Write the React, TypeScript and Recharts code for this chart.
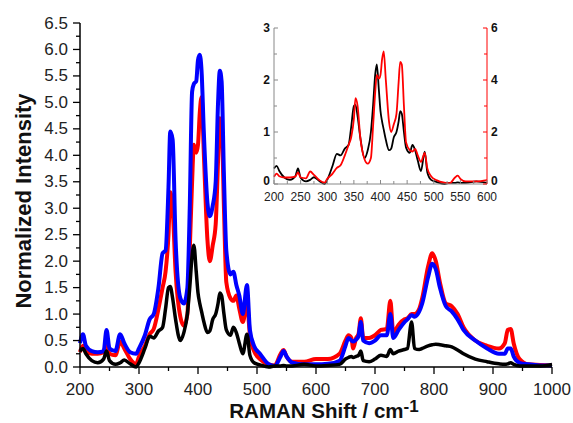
import { LineChart, Line, XAxis, YAxis } from "recharts";

// Raman shift (cm-1)
const shift = [
  200, 205, 210, 220, 230, 240, 245, 250, 260, 268,
  275, 285, 295, 300, 310, 318, 325, 333, 340, 345,
  350, 353, 357, 362, 370, 376, 382, 386, 390, 393,
  397, 400, 403, 406, 410, 416, 420, 425, 430, 434,
  437, 440, 444, 448, 455, 460, 465, 470, 476, 483,
  488, 495, 505, 520, 530, 540, 545, 550, 560, 580,
  600, 620, 640, 650, 655, 660, 663, 668, 672, 676,
  680, 690, 700, 710, 720, 726, 731, 740, 750, 755,
  762, 767, 775, 780, 790, 797, 803, 810, 820, 830,
  840, 850, 870, 890, 910, 920, 925, 930, 935, 945,
  960, 980, 1000,
];

const black = [
  0.3, 0.35, 0.25, 0.12, 0.08, 0.15, 0.3, 0.12, 0.05, 0.08,
  0.13, 0.06, 0.0, 0.08, 0.35, 0.58, 0.55, 0.68, 0.75, 1.1,
  1.5, 1.52, 1.3, 0.9, 0.5, 0.65, 1.0, 1.5, 2.1, 2.3,
  1.8, 1.4, 1.2, 1.05, 0.85, 0.65, 0.68, 0.9, 1.0, 1.2,
  1.4, 1.35, 1.0, 0.7, 0.6, 0.75, 0.65, 0.45, 0.25, 0.62,
  0.22, 0.08, 0.04, 0.0, 0.02, 0.02, 0.03, 0.02, 0.02, 0.05,
  0.02, 0.03, 0.05, 0.15, 0.18, 0.2, 0.18, 0.2, 0.22, 0.3,
  0.12, 0.1, 0.15, 0.22, 0.2, 0.33, 0.25, 0.3, 0.33, 0.35,
  0.85, 0.35, 0.33, 0.35, 0.4, 0.42, 0.43, 0.42, 0.4, 0.38,
  0.32, 0.25, 0.15, 0.1, 0.06, 0.05, 0.06, 0.08, 0.05, 0.02,
  0.02, 0.02, 0.05,
];

const red = [
  0.28, 0.4, 0.3, 0.25, 0.25, 0.28, 0.45, 0.25, 0.22, 0.48,
  0.35, 0.15, 0.05, 0.2, 0.4, 0.62, 0.72, 1.1, 1.5, 1.8,
  2.5, 3.3, 3.0, 1.8, 0.95, 0.78, 1.0, 2.2, 3.5, 4.2,
  4.05, 4.2, 4.8, 5.1, 4.0, 2.4, 2.0, 2.3, 2.7, 3.9,
  4.7, 4.6, 3.0, 1.6, 1.3, 1.25, 1.35, 1.1, 0.85, 1.2,
  0.6, 0.3, 0.15, 0.05, 0.03, 0.25, 0.32, 0.2, 0.1, 0.1,
  0.15, 0.15, 0.25, 0.5, 0.6, 0.55, 0.35, 0.55, 0.62, 0.92,
  0.55, 0.55, 0.6, 0.7, 0.72, 1.25, 0.65, 0.8, 0.9, 0.92,
  1.0, 1.0, 1.1, 1.3, 1.9, 2.15, 2.0, 1.6, 1.2, 1.15,
  1.0, 0.75, 0.5, 0.4, 0.35, 0.45, 0.7, 0.72, 0.45, 0.15,
  0.05, 0.04, 0.03,
];

const blue = [
  0.45, 0.62, 0.4, 0.3, 0.28, 0.3, 0.7, 0.35, 0.3, 0.62,
  0.45, 0.28, 0.25, 0.35, 0.6, 0.9, 1.0, 1.5, 2.15, 2.2,
  3.4, 4.45, 4.3, 2.4, 1.3, 1.2, 1.5, 3.0, 5.2, 5.35,
  5.4, 5.8, 5.9, 5.6, 4.4, 3.1, 2.85, 3.05, 3.5, 5.0,
  5.6, 5.4, 3.6, 2.2, 1.75, 1.8, 1.55, 1.35, 1.0, 1.55,
  0.7, 0.4, 0.25, 0.05, 0.02, 0.2, 0.3, 0.2, 0.08, 0.05,
  0.05, 0.06, 0.12, 0.4, 0.55, 0.5, 0.48, 0.52, 0.58, 0.85,
  0.5, 0.45, 0.5, 0.6, 0.6, 1.0, 0.55, 0.7, 0.85, 0.9,
  0.98, 0.95, 1.05, 1.2, 1.7, 1.95, 1.85, 1.5, 1.15, 1.05,
  0.9, 0.7, 0.5, 0.35, 0.25, 0.25, 0.35, 0.35, 0.2, 0.08,
  0.05, 0.03, 0.03,
];

const mainXTicks = [200, 250, 300, 350, 400, 450, 500, 550, 600, 650, 700, 750, 800, 850, 900, 950, 1000];
const mainYTicks = [
  0, 0.25, 0.5, 0.75, 1, 1.25, 1.5, 1.75, 2, 2.25, 2.5, 2.75, 3, 3.25,
  3.5, 3.75, 4, 4.25, 4.5, 4.75, 5, 5.25, 5.5, 5.75, 6, 6.25, 6.5,
];
const insetXTicks = [200, 225, 250, 275, 300, 325, 350, 375, 400, 425, 450, 475, 500, 525, 550, 575, 600];
const insetLeftTicks = [0, 0.5, 1, 1.5, 2, 2.5, 3];
const insetRightTicks = [0, 1, 2, 3, 4, 5, 6];

const data = shift.map((x, i) => ({ x, black: black[i], red: red[i], blue: blue[i] }));
const insetData = data.filter((d) => d.x <= 600);

const FONT = "Arial, 'Liberation Sans', sans-serif";
const isMult = (v: number, m: number) => Math.abs(v / m - Math.round(v / m)) < 1e-6;

const MainYTick = (props: any) => {
  const { x, y, payload } = props;
  const major = isMult(payload.value, 0.5);
  const ax = x + 12;
  return (
    <g>
      <line x1={ax - (major ? 7 : 4)} x2={ax} y1={y} y2={y} stroke="#000" strokeWidth={1.3} />
      {major && (
        <text x={x} y={y} textAnchor="end" dominantBaseline="central" fontSize={17} fontFamily={FONT} fill="#222">
          {payload.value.toFixed(1)}
        </text>
      )}
    </g>
  );
};

const MainXTick = (props: any) => {
  const { x, y, payload } = props;
  const major = isMult(payload.value, 100);
  const ay = y - 16;
  return (
    <g>
      <line x1={x} x2={x} y1={ay} y2={ay + (major ? 7 : 4)} stroke="#000" strokeWidth={1.3} />
      {major && (
        <text x={x} y={y} dy="0.71em" textAnchor="middle" fontSize={17} fontFamily={FONT} fill="#222">
          {payload.value}
        </text>
      )}
    </g>
  );
};

// the "0" labels sit in the corners next to the x labels, nudge them up a little
const InsetLeftTick = (props: any) => {
  const { x, y, payload } = props;
  const major = isMult(payload.value, 1);
  const ax = x + 4;
  const ty = payload.value === 0 ? y - 3 : y;
  return (
    <g>
      <line x1={ax} x2={ax + (major ? 4 : 3)} y1={y} y2={y} stroke="#888" />
      {major && (
        <text x={x} y={ty} textAnchor="end" dominantBaseline="central" fontSize={12} fontWeight="bold" fontFamily={FONT} fill="#111">
          {payload.value}
        </text>
      )}
    </g>
  );
};

const InsetRightTick = (props: any) => {
  const { x, y, payload } = props;
  const major = isMult(payload.value, 2);
  const ax = x - 4;
  const ty = payload.value === 0 ? y - 3 : y;
  return (
    <g>
      <line x1={ax - (major ? 4 : 3)} x2={ax} y1={y} y2={y} stroke="#f00" />
      {major && (
        <text x={x} y={ty} textAnchor="start" dominantBaseline="central" fontSize={12} fontWeight="bold" fontFamily={FONT} fill="#111">
          {payload.value}
        </text>
      )}
    </g>
  );
};

const InsetBottomTick = (props: any) => {
  const { x, y, payload } = props;
  const major = isMult(payload.value, 50);
  const ay = y - 8;
  return (
    <g>
      <line x1={x} x2={x} y1={ay - (major ? 4 : 3)} y2={ay} stroke="#888" />
      {major && (
        <text x={x} y={y} dy="0.71em" textAnchor="middle" fontSize={12} fontFamily={FONT} fill="#222">
          {payload.value}
        </text>
      )}
    </g>
  );
};

const InsetTopTick = (props: any) => {
  const { x, y } = props;
  return <line x1={x} x2={x} y1={y} y2={y + 3} stroke="#888" />;
};

export default function App() {
  return (
    <div style={{ position: "absolute", left: 0, top: 0, width: 573, height: 423, background: "#fff" }}>
      <LineChart width={573} height={423} data={data} margin={{ top: 23, right: 21, left: 0, bottom: 0 }}>
        <XAxis
          dataKey="x"
          type="number"
          domain={[200, 1000]}
          ticks={mainXTicks}
          interval={0}
          height={56}
          tickSize={0}
          tickMargin={16}
          tickLine={false}
          tick={MainXTick}
          axisLine={{ stroke: "#000", strokeWidth: 1.5 }}
          label={{
            content: () => (
              <text x={324} y={418} textAnchor="middle" fontSize={20.5} fontWeight="bold" fontFamily={FONT} fill="#111">
                RAMAN Shift / cm
                <tspan dy={-6} fontSize={17}>-1</tspan>
              </text>
            ),
          }}
        />
        <YAxis
          type="number"
          domain={[0, 6.5]}
          ticks={mainYTicks}
          interval={0}
          width={80}
          tickSize={0}
          tickMargin={12}
          tickLine={false}
          tick={MainYTick}
          axisLine={{ stroke: "#000", strokeWidth: 1.5 }}
          label={{
            content: () => (
              <text
                x={31}
                y={201}
                transform="rotate(-90, 31, 201)"
                textAnchor="middle"
                fontSize={22}
                fontWeight="bold"
                fontFamily={FONT}
                fill="#111"
              >
                Normalized Intensity
              </text>
            ),
          }}
        />
        <Line type="monotone" dataKey="red" stroke="#ff0000" strokeWidth={4} dot={false} isAnimationActive={false} />
        <Line type="monotone" dataKey="blue" stroke="#0000ff" strokeWidth={4} dot={false} isAnimationActive={false} />
        <Line type="monotone" dataKey="black" stroke="#000000" strokeWidth={3.5} dot={false} isAnimationActive={false} />
      </LineChart>

      <div style={{ position: "absolute", left: 250, top: 10 }}>
        <LineChart width={270} height={200} data={insetData} margin={{ top: 18, right: 0, left: 0, bottom: 0 }}>
          <XAxis
            dataKey="x"
            type="number"
            domain={[200, 600]}
            ticks={insetXTicks}
            interval={0}
            height={26}
            tickSize={0}
            tickMargin={8}
            tickLine={false}
            tick={InsetBottomTick}
            axisLine={{ stroke: "#888" }}
          />
          <XAxis
            xAxisId="top"
            orientation="top"
            dataKey="x"
            type="number"
            domain={[200, 600]}
            ticks={insetXTicks}
            interval={0}
            height={0}
            tickSize={0}
            tickMargin={0}
            tickLine={false}
            tick={InsetTopTick}
            axisLine={{ stroke: "#888" }}
          />
          <YAxis
            yAxisId="l"
            type="number"
            domain={[0, 3]}
            ticks={insetLeftTicks}
            interval={0}
            width={24}
            tickSize={0}
            tickMargin={4}
            tickLine={false}
            tick={InsetLeftTick}
            axisLine={{ stroke: "#888" }}
          />
          <YAxis
            yAxisId="r"
            orientation="right"
            type="number"
            domain={[0, 6]}
            ticks={insetRightTicks}
            interval={0}
            width={33}
            tickSize={0}
            tickMargin={4}
            tickLine={false}
            tick={InsetRightTick}
            axisLine={{ stroke: "#ff0000" }}
          />
          <Line yAxisId="l" type="monotone" dataKey="black" stroke="#000000" strokeWidth={1.8} dot={false} isAnimationActive={false} />
          <Line yAxisId="r" type="monotone" dataKey="red" stroke="#ff0000" strokeWidth={1.8} dot={false} isAnimationActive={false} />
        </LineChart>
      </div>
    </div>
  );
}
